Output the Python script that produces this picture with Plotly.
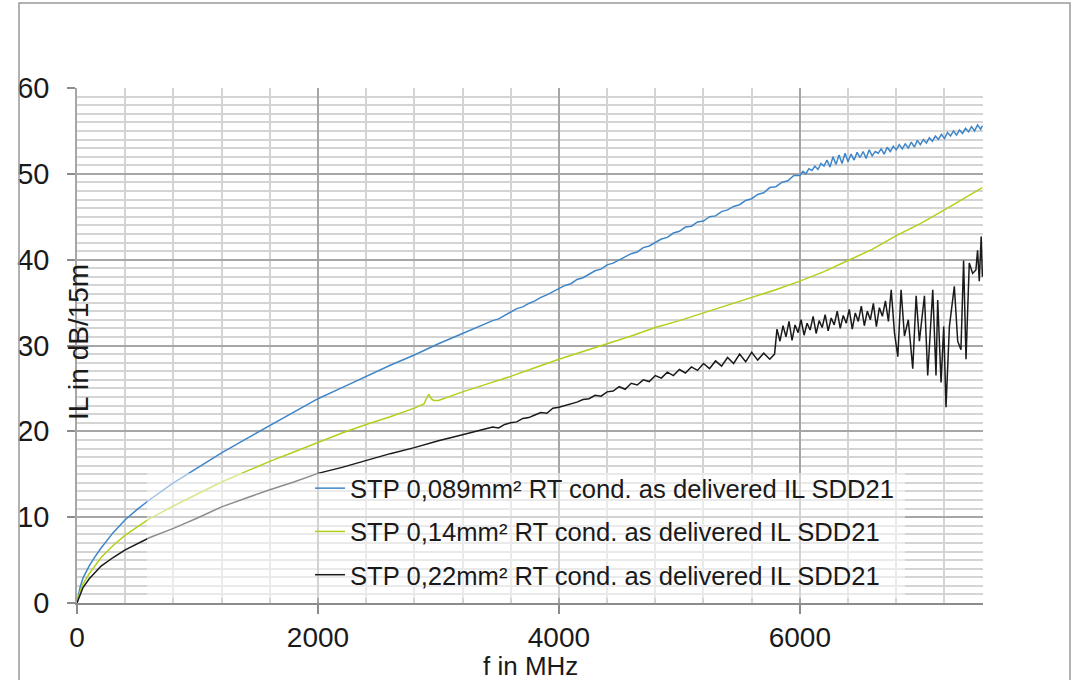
import plotly.graph_objects as go

# ---------------- data ----------------
blue_f = [0, 25, 50, 100, 150, 200, 300, 400, 500, 600, 800, 1000, 1200, 1400, 1600, 1800, 2000,
          2200, 2400, 2600, 2800, 3000, 3200, 3400,
          3450, 3500, 3550, 3600, 3650, 3700, 3750, 3800, 3850, 3900, 3950, 4000,
          4050, 4100, 4150, 4200, 4250, 4300, 4350, 4400, 4450, 4500, 4550, 4600,
          4650, 4700, 4750, 4800, 4850, 4900, 4950, 5000,
          5050, 5100, 5150, 5200, 5250, 5300, 5350, 5400, 5450, 5500, 5550, 5600,
          5650, 5700, 5750, 5800, 5850, 5900, 5950, 6000,
          6025, 6050, 6075, 6100, 6125, 6150, 6175, 6200, 6225, 6250, 6275, 6300,
          6325, 6350, 6375, 6400, 6425, 6450, 6475, 6500, 6525, 6550, 6575, 6600,
          6625, 6650, 6675, 6700, 6725, 6750, 6775, 6800, 6825, 6850, 6875, 6900,
          6925, 6950, 6975, 7000, 7025, 7050, 7075, 7100, 7125, 7150, 7175, 7200,
          7225, 7250, 7275, 7300, 7325, 7350, 7375, 7400, 7425, 7450, 7475, 7500, 7515]
blue_il = [0, 1.8, 2.9, 4.3, 5.4, 6.4, 8.2, 9.7, 10.9, 12.0, 14.0, 15.8, 17.5, 19.1, 20.7, 22.3, 23.8,
           25.1, 26.4, 27.7, 28.9, 30.2, 31.4, 32.6,
           32.9, 33.1, 33.5, 33.8, 34.3, 34.5, 34.9, 35.2, 35.6, 35.9, 36.3, 36.6,
           37.0, 37.2, 37.7, 37.9, 38.3, 38.7, 38.9, 39.4, 39.6, 40.0, 40.3, 40.7,
           40.9, 41.4, 41.6, 42.0, 42.4, 42.6, 43.1, 43.3,
           43.8, 43.9, 44.4, 44.5, 45.0, 45.1, 45.6, 45.8, 46.2, 46.4, 46.9, 47.1,
           47.6, 47.8, 48.4, 48.5, 49.0, 49.2, 49.8, 49.8,
           50.3, 50.0, 50.6, 50.4, 50.9, 50.5, 51.2, 50.9, 51.6, 50.8, 52.0, 51.1,
           52.2, 51.2, 52.4, 51.4, 52.3, 51.6, 52.5, 51.9, 52.6, 51.8, 52.8, 52.1,
           52.6, 52.4, 52.9, 52.3, 53.1, 52.6, 53.2, 52.8, 53.4, 52.9, 53.5, 53.0,
           53.7, 53.1, 53.9, 53.4, 54.0, 53.6, 54.2, 53.8, 54.4, 54.0, 54.6, 54.1,
           54.8, 54.4, 55.0, 54.5, 55.1, 54.7, 55.3, 54.9, 55.5, 55.0, 55.7, 55.2, 55.6]

green_f = [0, 25, 50, 100, 200, 300, 400, 600, 800, 1000, 1200, 1400, 1600, 1800, 2000,
           2200, 2400, 2600, 2800, 2880, 2900, 2920, 2940, 2960, 3000, 3200, 3400, 3600, 3800, 4000,
           4200, 4400, 4600, 4800, 5000, 5200, 5400, 5600, 5800, 6000, 6200, 6400, 6600,
           6800, 7000, 7200, 7400, 7515]
green_il = [0, 1.3, 2.2, 3.4, 5.3, 6.7, 7.9, 9.8, 11.3, 12.7, 14.1, 15.3, 16.5, 17.6, 18.7,
            19.8, 20.8, 21.7, 22.7, 23.2, 23.8, 24.3, 23.8, 23.6, 23.6, 24.6, 25.5, 26.4, 27.4, 28.4,
            29.3, 30.2, 31.1, 32.1, 32.9, 33.8, 34.7, 35.6, 36.5, 37.5, 38.6, 39.9, 41.2,
            42.8, 44.2, 45.8, 47.5, 48.4]

black_f = [0, 25, 50, 100, 200, 300, 400, 600, 800, 1000, 1200, 1400, 1600, 1800, 2000,
           2200, 2400, 2600, 2800, 3000, 3200, 3400,
           3450, 3500, 3550, 3600, 3650, 3700, 3750, 3800, 3850, 3900, 3950, 4000,
           4050, 4100, 4150, 4200, 4250, 4300, 4350, 4400, 4450, 4500, 4550, 4600,
           4650, 4700, 4750, 4800, 4850, 4900, 4950, 5000, 5050, 5100, 5150, 5200,
           5250, 5300, 5350, 5400, 5450, 5500, 5550, 5600, 5650, 5700, 5750, 5790,
           5810, 5835, 5860, 5885, 5910, 5935, 5960, 5985, 6010, 6035, 6060, 6085,
           6110, 6135, 6160, 6185, 6210, 6235, 6260, 6285, 6310, 6335, 6360, 6385,
           6410, 6435, 6460, 6485, 6510, 6535, 6560, 6585, 6610, 6635, 6660, 6685,
           6710, 6735, 6758, 6785, 6813, 6840, 6868,
           6900, 6937, 6965, 6992, 7034, 7061, 7103, 7130, 7144, 7172, 7194, 7213,
           7241, 7282, 7310, 7337, 7359, 7379, 7406, 7434, 7461, 7475, 7489, 7505, 7515]
black_il = [0, 1.0, 1.8, 2.8, 4.3, 5.3, 6.2, 7.6, 8.7, 9.9, 11.2, 12.2, 13.2, 14.1, 15.1,
            15.8, 16.6, 17.4, 18.1, 18.9, 19.6, 20.3,
            20.5, 20.4, 20.8, 21.0, 21.1, 21.5, 21.6, 21.9, 22.2, 22.1, 22.7, 22.8,
            23.0, 23.2, 23.4, 23.7, 23.8, 24.2, 24.1, 24.6, 24.7, 25.2, 24.9, 25.6,
            25.4, 26.0, 25.8, 26.5, 26.2, 26.9, 26.5, 27.2, 26.8, 27.5, 27.1, 27.9,
            27.3, 28.2, 27.6, 28.6, 27.9, 29.0, 28.1, 29.2, 28.3, 29.1, 28.4, 29.0,
            31.9, 30.5, 32.3, 31.0, 32.8, 30.6, 32.4, 31.5, 33.0, 31.2, 32.6, 31.8,
            33.4, 31.4, 32.9, 32.1, 33.6, 31.7, 33.2, 32.4, 34.0, 32.0, 33.5, 32.6,
            34.2, 31.9, 33.8, 32.8, 34.6, 32.3, 34.0, 33.0, 34.9, 32.2, 34.4, 33.4,
            35.2, 32.8, 36.5, 31.5, 28.7, 36.5, 31.1,
            33.0, 27.3, 35.8, 30.5, 35.8, 26.5, 36.5, 26.5, 35.3, 25.7, 32.2, 22.8,
            32.2, 36.9, 30.5, 29.5, 39.9, 28.4, 39.6, 38.4, 38.8, 41.1, 37.5, 42.7, 38.0]

series_names = ["STP 0,089mm² RT cond. as delivered IL SDD21",
                "STP 0,14mm² RT cond. as delivered IL SDD21",
                "STP 0,22mm² RT cond. as delivered IL SDD21"]
series_colors = ["#3f86c8", "#b3cf1c", "#1a1a1a"]

x_title = "f in MHz"
y_title = "IL in dB/15m"

# ---------------- figure ----------------
FONT = "Liberation Sans, Arial, sans-serif"
fig = go.Figure()
for i, (fx, fy) in enumerate([(blue_f, blue_il), (green_f, green_il), (black_f, black_il)]):
    fig.add_trace(go.Scatter(x=fx, y=fy, mode="lines", name=series_names[i],
                             legendgroup=str(i),
                             line=dict(color=series_colors[i], width=1.5)))

W, H = 1076, 680
L, R, T, B = 77, 93, 88, 77
pw, ph = W - L - R, H - T - B

def px(xp):
    return (xp - L) / pw

def py(yp):
    return (H - B - yp) / ph

fig.update_layout(
    width=W, height=H,
    margin=dict(l=L, r=R, t=T, b=B, pad=0),
    paper_bgcolor="white", plot_bgcolor="white",
    font=dict(family=FONT, color="#1a1a1a"),
    showlegend=True,
    legend=dict(x=px(310), y=py(465), xanchor="left", yanchor="top",
                bgcolor="rgba(0,0,0,0)", borderwidth=0,
                font=dict(family=FONT, size=25.6, color="#1a1a1a"),
                tracegroupgap=7, itemwidth=30),
    xaxis=dict(range=[0, 7520], dtick=2000, tick0=0,
               showgrid=True, gridcolor="#a6a6a6", gridwidth=1.5,
               minor=dict(dtick=400, showgrid=True, gridcolor="#d4d4d4", gridwidth=1.5),
               showline=True, linecolor="#8c8c8c", linewidth=1.5,
               ticks="outside", ticklen=9, tickcolor="#8c8c8c", tickwidth=1.5,
               tickfont=dict(family=FONT, size=28, color="#1a1a1a"),
               zeroline=False, fixedrange=True),
    yaxis=dict(range=[0, 60], dtick=10, tick0=0,
               showgrid=True, gridcolor="#a6a6a6", gridwidth=1.5,
               minor=dict(dtick=1, showgrid=True, gridcolor="#d4d4d4", gridwidth=1.5),
               showline=True, linecolor="#a6a6a6", linewidth=1.5,
               ticks="outside", ticklen=8, tickcolor="#8c8c8c", tickwidth=1.5,
               ticklabelstandoff=12,
               tickfont=dict(family=FONT, size=29, color="#1a1a1a"),
               zeroline=False, fixedrange=True),
    shapes=[
        # light veil behind the legend
        dict(type="rect", xref="paper", yref="paper",
             x0=px(147), x1=px(905), y0=py(598), y1=py(473),
             fillcolor="rgba(255,255,255,0.5)", line=dict(width=0), layer="above"),
        # outer chart frame
        dict(type="rect", xref="paper", yref="paper",
             x0=px(19), x1=px(1070), y0=py(700), y1=py(3),
             fillcolor="rgba(0,0,0,0)", line=dict(color="#999999", width=1.5), layer="above"),
    ],
    annotations=[
        dict(text=x_title, xref="paper", yref="paper", x=0.5, y=py(666),
             xanchor="center", yanchor="middle", showarrow=False,
             font=dict(family=FONT, size=26, color="#1a1a1a")),
        dict(text=y_title, xref="paper", yref="paper", x=px(78), y=py(342),
             xanchor="center", yanchor="middle", textangle=-90, showarrow=False,
             font=dict(family=FONT, size=28, color="#1a1a1a")),
    ],
)

fig.write_html("out.html")
